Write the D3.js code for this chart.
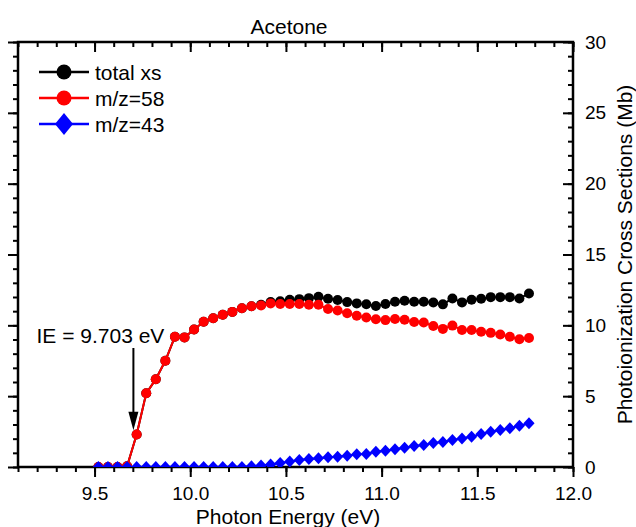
<!DOCTYPE html>
<html>
<head>
  <meta charset="utf-8">
  <title>Acetone</title>
  <script src="https://d3js.org/d3.v7.min.js"></script>
  <style>
    body { margin: 0; background: #ffffff; }
    text { font-family: "Liberation Sans", Arial, sans-serif; }
  </style>
</head>
<body>
<svg id="chart" width="636" height="527"></svg>
<script type="text/javascript">

  /* Data */
  var energy = [9.52, 9.57, 9.62, 9.67, 9.72, 9.77, 9.82, 9.87, 9.92, 9.97,
                10.02, 10.07, 10.12, 10.17, 10.22, 10.27, 10.32, 10.37, 10.42, 10.47,
                10.52, 10.57, 10.62, 10.67, 10.72, 10.77, 10.82, 10.87, 10.92, 10.97,
                11.02, 11.07, 11.12, 11.17, 11.22, 11.27, 11.32, 11.37, 11.42, 11.47,
                11.52, 11.57, 11.62, 11.67, 11.72, 11.77];

  var totalXs = [0, 0, 0, 0.05, 2.3, 5.2, 6.2, 7.5, 9.2, 9.15,
                 9.7, 10.25, 10.5, 10.75, 10.95, 11.2, 11.35, 11.45, 11.65, 11.7,
                 11.8, 11.85, 11.92, 12.02, 11.88, 11.79, 11.64, 11.55, 11.49, 11.37,
                 11.5, 11.67, 11.74, 11.67, 11.66, 11.61, 11.48, 11.9, 11.62, 11.81,
                 11.88, 11.99, 11.99, 11.99, 11.9, 12.25];

  var mz58 = [0, 0, 0, 0.05, 2.3, 5.2, 6.2, 7.5, 9.2, 9.15,
              9.7, 10.25, 10.5, 10.75, 10.95, 11.2, 11.35, 11.4, 11.55, 11.5,
              11.5, 11.5, 11.45, 11.45, 11.15, 11.05, 10.85, 10.68, 10.55, 10.43,
              10.37, 10.45, 10.4, 10.23, 10.2, 9.95, 9.75, 9.98, 9.67, 9.67,
              9.55, 9.47, 9.35, 9.2, 9.02, 9.1];

  var mz43 = [0, 0, 0, 0, 0, 0, 0, 0, 0, 0,
              0, 0, 0, 0, 0, 0, 0.05, 0.1, 0.18, 0.28,
              0.38, 0.49, 0.56, 0.61, 0.68, 0.73, 0.8, 0.9, 0.92, 1.08,
              1.15, 1.25, 1.36, 1.48, 1.55, 1.7, 1.76, 1.9, 2.02, 2.14,
              2.33, 2.49, 2.61, 2.73, 2.91, 3.08];

  var xTickLabels = [9.5, 10.0, 10.5, 11.0, 11.5, 12.0];
  var yTickLabels = [0, 5, 10, 15, 20, 25, 30];
  var ieValue = 9.703;

  var svg = d3.select("#chart");
  var pLeft = 18, pRight = 573, pTop = 42, pBottom = 467;

  var x = d3.scaleLinear().domain([9.1, 12.0]).range([pLeft, pRight]);
  var y = d3.scaleLinear().domain([0, 30]).range([pBottom, pTop]);

  var xMinor = d3.range(91, 121).map(function (d) { return d / 10; });
  var yMinor = d3.range(0, 31);

  /* clip so markers at zero are cut by the frame */
  svg.append("clipPath").attr("id", "plotclip")
    .append("rect")
    .attr("x", pLeft).attr("y", pTop)
    .attr("width", pRight - pLeft).attr("height", pBottom - pTop);

  function styleAxis(g) {
    g.select(".domain").remove();
    g.selectAll(".tick line").attr("stroke", "#000").attr("stroke-width", 2);
    g.selectAll("text").attr("font-size", 19).attr("fill", "#000")
      .attr("font-family", "'Liberation Sans', Arial, sans-serif");
  }

  /* bottom axis */
  svg.append("g").attr("transform", "translate(0," + pBottom + ")")
    .call(d3.axisBottom(x).tickValues(xMinor).tickSize(5).tickFormat(""))
    .call(styleAxis);
  svg.append("g").attr("transform", "translate(0," + pBottom + ")")
    .call(d3.axisBottom(x).tickValues(xTickLabels).tickSize(10).tickPadding(10)
      .tickFormat(d3.format(".1f")))
    .call(styleAxis);

  /* top axis, ticks pointing down */
  svg.append("g").attr("transform", "translate(0," + pTop + ")")
    .call(d3.axisBottom(x).tickValues(xMinor).tickSize(5).tickFormat(""))
    .call(styleAxis);
  svg.append("g").attr("transform", "translate(0," + pTop + ")")
    .call(d3.axisBottom(x).tickValues(xTickLabels).tickSize(10).tickFormat(""))
    .call(styleAxis);

  /* left axis, ticks pointing out */
  svg.append("g").attr("transform", "translate(" + pLeft + ",0)")
    .call(d3.axisLeft(y).tickValues(yMinor).tickSize(5).tickFormat(""))
    .call(styleAxis);
  svg.append("g").attr("transform", "translate(" + pLeft + ",0)")
    .call(d3.axisLeft(y).tickValues(yTickLabels).tickSize(10).tickFormat(""))
    .call(styleAxis);

  /* right axis, ticks pointing in, labels outside */
  svg.append("g").attr("transform", "translate(" + pRight + ",0)")
    .call(d3.axisLeft(y).tickValues(yMinor).tickSize(5).tickFormat(""))
    .call(styleAxis);
  svg.append("g").attr("transform", "translate(" + pRight + ",0)")
    .call(d3.axisLeft(y).tickValues(yTickLabels).tickSize(10).tickFormat(""))
    .call(styleAxis);
  svg.append("g").attr("transform", "translate(" + pRight + ",0)")
    .call(d3.axisRight(y).tickValues(yTickLabels).tickSize(0).tickPadding(12))
    .call(styleAxis);

  /* frame */
  svg.append("rect")
    .attr("x", pLeft).attr("y", pTop)
    .attr("width", pRight - pLeft).attr("height", pBottom - pTop)
    .attr("fill", "none").attr("stroke", "#000").attr("stroke-width", 2.5);

  /* series */
  var series = [
    { name: "total xs", values: totalXs, color: "#000000", shape: "circle" },
    { name: "m/z=58", values: mz58, color: "#ff0000", shape: "circle" },
    { name: "m/z=43", values: mz43, color: "#0000ff", shape: "diamond" }
  ];

  function diamondPath(hw, hh) {
    return "M0," + (-hh) + "L" + hw + ",0L0," + hh + "L" + (-hw) + ",0Z";
  }

  var plot = svg.append("g").attr("clip-path", "url(#plotclip)");

  var line = d3.line()
    .x(function (d) { return x(d[0]); })
    .y(function (d) { return y(d[1]); });

  series.forEach(function (s) {
    var pts = energy.map(function (e, i) { return [e, s.values[i]]; });
    plot.append("path").datum(pts)
      .attr("d", line)
      .attr("fill", "none")
      .attr("stroke", s.color)
      .attr("stroke-width", 2);
    if (s.shape === "circle") {
      plot.selectAll(null).data(pts).enter().append("circle")
        .attr("cx", function (d) { return x(d[0]); })
        .attr("cy", function (d) { return y(d[1]); })
        .attr("r", 5)
        .attr("fill", s.color);
    } else {
      plot.selectAll(null).data(pts).enter().append("path")
        .attr("transform", function (d) { return "translate(" + x(d[0]) + "," + y(d[1]) + ")"; })
        .attr("d", diamondPath(5.6, 6))
        .attr("fill", s.color);
    }
  });

  /* IE arrow and label */
  var xIE = x(ieValue);
  svg.append("line")
    .attr("x1", xIE).attr("x2", xIE)
    .attr("y1", y(8.4)).attr("y2", y(3.6))
    .attr("stroke", "#000").attr("stroke-width", 2);
  svg.append("path")
    .attr("d", "M" + (xIE - 5) + "," + y(3.9) + "L" + (xIE + 5) + "," + y(3.9) +
               "L" + xIE + "," + y(2.6) + "Z")
    .attr("fill", "#000");
  svg.append("text")
    .attr("x", xIE + 31).attr("y", y(8.75))
    .attr("text-anchor", "end")
    .attr("font-size", 21)
    .text("IE = 9.703 eV");

  /* legend */
  var legend = svg.append("g");
  series.forEach(function (s, i) {
    var ly = 72 + i * 26;
    legend.append("line")
      .attr("x1", 39).attr("x2", 89).attr("y1", ly).attr("y2", ly)
      .attr("stroke", s.color).attr("stroke-width", 2.3);
    if (s.shape === "circle") {
      legend.append("circle").attr("cx", 64).attr("cy", ly).attr("r", 7.5).attr("fill", s.color);
    } else {
      legend.append("path").attr("transform", "translate(64," + ly + ")")
        .attr("d", diamondPath(9, 11)).attr("fill", s.color);
    }
    legend.append("text")
      .attr("x", 95).attr("y", ly + 7.5)
      .attr("font-size", 21)
      .text(s.name);
  });

  /* titles */
  svg.append("text")
    .attr("x", 289).attr("y", 34)
    .attr("text-anchor", "middle").attr("font-size", 21)
    .text("Acetone");
  svg.append("text")
    .attr("x", 288).attr("y", 524)
    .attr("text-anchor", "middle").attr("font-size", 21)
    .text("Photon Energy (eV)");
  svg.append("text")
    .attr("transform", "translate(632," + ((pTop + pBottom) / 2) + ") rotate(-90)")
    .attr("text-anchor", "middle").attr("font-size", 21)
    .text("Photoionization Cross Sections (Mb)");

</script>
</body>
</html>
